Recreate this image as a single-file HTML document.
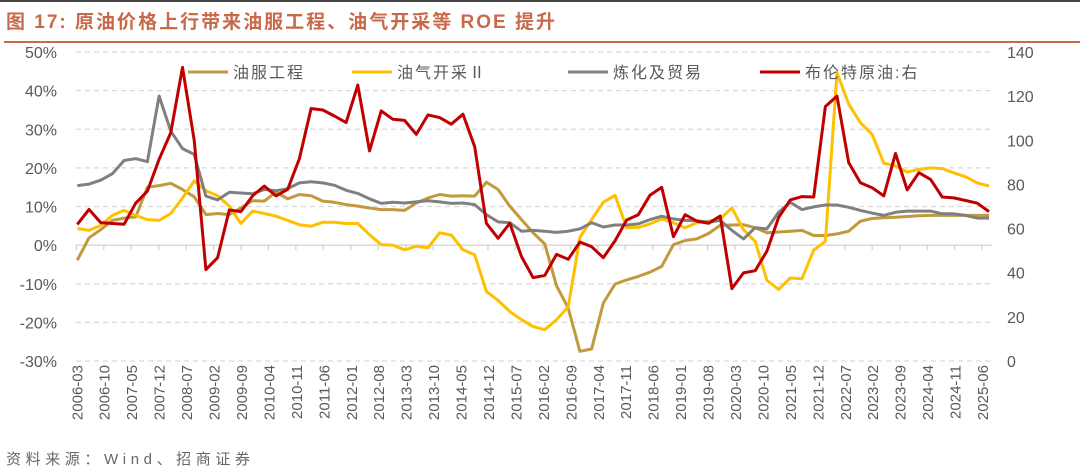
<!DOCTYPE html>
<html><head><meta charset="utf-8"><style>
body{margin:0;background:#fff;width:1080px;height:469px;overflow:hidden;font-family:"Liberation Sans","Noto Sans CJK SC",sans-serif;}
</style></head><body>
<svg id="c" width="1080" height="469" xmlns="http://www.w3.org/2000/svg">
<rect x="0" y="0" width="1080" height="2" fill="#444"/>
<text x="6" y="28" font-size="19" font-weight="bold" fill="#c8694a" textLength="549" lengthAdjust="spacing" font-family="Liberation Sans,Noto Sans CJK SC,sans-serif">图 17:  原油价格上行带来油服工程、油气开采等 ROE 提升</text>
<rect x="4" y="41" width="1076" height="2" fill="#c8694a"/>
<g id="grid"></g><g id="axes"></g><g id="series"></g><g id="legend"></g>
<text x="6" y="464" font-size="15" fill="#666" textLength="244" lengthAdjust="spacing" font-family="Liberation Sans,Noto Sans CJK SC,sans-serif">资料来源：Wind、招商证券</text>
</svg>
<script>
const NS="http://www.w3.org/2000/svg";
const xLabels=["2006-03","2006-10","2007-05","2007-12","2008-07","2009-02","2009-09","2010-04","2010-11","2011-06","2012-01","2012-08","2013-03","2013-10","2014-05","2014-12","2015-07","2016-02","2016-09","2017-04","2017-11","2018-06","2019-01","2019-08","2020-03","2020-10","2021-05","2021-12","2022-07","2023-02","2023-09","2024-04","2024-11","2025-06"];
const leftTicks=[50,40,30,20,10,0,-10,-20,-30];
const rightTicks=[140,120,100,80,60,40,20,0];
const oilService=[-3.9,1.9,4,6.4,7,7.3,15,15.4,16,14.4,12.5,7.9,8.2,7.9,9.6,11.5,11.4,13.7,12,13.1,12.8,11.4,11.1,10.5,10.1,9.6,9.2,9.2,9,10.9,12.2,13.1,12.7,12.8,12.7,16.3,14.4,10.1,6.6,3.2,0.3,-10.5,-16.3,-27.5,-26.9,-15,-10.1,-9,-8.1,-7,-5.5,0.1,1.2,1.6,3,5.1,5.2,5.3,4.5,3.2,3.4,3.6,3.8,2.5,2.5,2.9,3.6,6.2,6.9,7.1,7.2,7.4,7.6,7.7,7.7,7.7,7.7,7.7,7.7];
const upstream=[4.3,3.8,5.1,7.7,9,7.7,6.6,6.4,8.2,12.2,16.6,14.1,12.8,10.1,5.6,8.8,8.2,7.5,6.4,5.3,4.9,5.9,5.9,5.6,5.6,2.7,0.1,0,-1.2,-0.3,-0.7,3.2,2.6,-1.2,-2.5,-12,-14.3,-17.2,-19.3,-21.1,-21.9,-19.3,-16,2,6.6,11.1,12.9,4.5,4.6,5.5,6.8,5.8,4.5,5.8,6.2,6.8,9.6,4,1,-9.1,-11.5,-8.5,-8.7,-1.3,1,44.7,36.5,31.7,28.7,21.2,20.5,18.9,19.6,20,19.8,18.7,17.7,16.1,15.3];
const refining=[15.4,15.8,16.8,18.5,21.9,22.4,21.6,38.6,29.5,25,23.5,12.7,11.7,13.7,13.5,13.3,14.4,14.1,14.6,16.1,16.4,16.1,15.5,14.2,13.4,12,10.8,11.1,10.9,11.2,11.5,11.2,10.8,10.9,10.5,7.9,6,5.8,3.6,3.8,3.6,3.3,3.6,4.2,5.8,4.7,5.2,5.2,5.5,6.6,7.5,6.8,6.4,6.3,5.9,6.4,3.8,1.6,4.5,4.2,8.5,11.1,9.2,9.9,10.4,10.4,9.8,9,8.3,7.7,8.5,8.8,8.8,8.8,8.1,8.1,7.7,7,7];
const brent=[61.9,68.7,62.7,62.3,62,71.5,77,91.4,103.5,133,100,41.4,46.8,68.4,67.7,74.8,79.3,74.8,77.8,91.7,114.4,113.7,111,108,125,95.2,113.3,109.5,109,102.7,111.5,110.3,107.3,111.8,97.1,62.4,55.6,62.4,47.3,37.8,38.8,48.3,46.1,53.9,51.8,46.8,54.4,63.9,66.3,75.1,78.7,56.3,66.3,63.4,62.4,65.7,32.8,39.9,40.9,49.8,65,73,74.5,74.3,115.3,120,89.9,80.8,78.5,74.8,94,77.5,85.3,82.3,74.3,73.9,72.7,71.5,67.7];

const X0=77.3,X1=989,TOP=52,BOT=361,PL=76,PR=992;
const n=brent.length;
const xs=i=>X0+i*(X1-X0)/(n-1);
const yL=v=>TOP+(50-v)*(BOT-TOP)/80;
const yR=v=>BOT-v*(BOT-TOP)/140;
function mk(t,a,p){const e=document.createElementNS(NS,t);for(const k in a)e.setAttribute(k,a[k]);p.appendChild(e);return e;}
const grid=document.getElementById('grid'),axes=document.getElementById('axes'),ser=document.getElementById('series'),leg=document.getElementById('legend');
leftTicks.forEach(v=>{
 if(v!==0){const l=mk('line',{x1:PL,x2:PR,y1:yL(v),y2:yL(v),stroke:'#d9d9d9','stroke-width':1.3,'stroke-dasharray':'5,4'},grid);
 
 }
 const t=mk('text',{x:57,y:yL(v)+6,'text-anchor':'end','font-size':16,fill:'#595959'},axes);t.textContent=v+'%';
 
 
});
rightTicks.forEach(v=>{
 const t=mk('text',{x:1007,y:yR(v)+6,'font-size':16,fill:'#595959'},axes);t.textContent=v;
 
 
});
const z=mk('line',{x1:PL,x2:PR,y1:yL(0),y2:yL(0),stroke:'#d0d0d0','stroke-width':1.3},axes);


const step=(983-X0)/(xLabels.length-1);
xLabels.forEach((s,k)=>{
 const x=X0+k*step;
 const tk=mk('line',{x1:x-1,x2:x-1,y1:yL(0),y2:yL(0)+5,stroke:'#d0d0d0','stroke-width':1.2},axes);
 
 
 const t=mk('text',{x:0,y:0,'text-anchor':'end','font-size':15,fill:'#595959',transform:`translate(${x+5},365) rotate(-90)`},axes);t.textContent=s;
 
 
});
function line(arr,fy,col,name){
 const p=mk('polyline',{points:arr.map((v,i)=>xs(i).toFixed(1)+','+fy(v).toFixed(1)).join(' '),fill:'none',stroke:col,'stroke-width':3,'stroke-linejoin':'round'},ser);
 
 
}
line(oilService,yL,'#c09a3c','oil-service-line');
line(upstream,yL,'#ffc000','upstream-line');
line(refining,yL,'#808080','refining-line');
line(brent,yR,'#c00000','brent-line');
const L=[[188,'#c09a3c','油服工程','legend-oil-service'],[352,'#ffc000','油气开采Ⅱ','legend-upstream'],[568,'#808080','炼化及贸易','legend-refining'],[760,'#c00000','布伦特原油:右','legend-brent']];
L.forEach(([x,c,t,nm])=>{
 const g=mk('g',{},leg);
 
 
 mk('line',{x1:x,x2:x+40,y1:72,y2:72,stroke:c,'stroke-width':3},g);
 const tx=mk('text',{x:x+45,y:78,'font-size':16,fill:'#595959','letter-spacing':'2'},g);tx.textContent=t;
});
</script>
</body></html>
